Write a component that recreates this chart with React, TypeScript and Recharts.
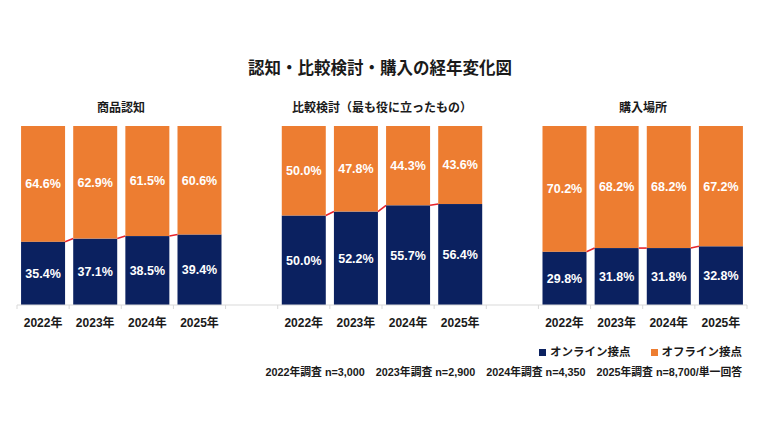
import React from 'react';
import { BarChart, Bar, XAxis, YAxis, LabelList } from 'recharts';

const years = ['2022年', '2023年', '2024年', '2025年'];
const groupTitles = ['商品認知', '比較検討（最も役に立ったもの）', '購入場所'];
const onlineAwareness = [35.4, 37.1, 38.5, 39.4];
const offlineAwareness = [64.6, 62.9, 61.5, 60.6];
const onlineComparison = [50.0, 52.2, 55.7, 56.4];
const offlineComparison = [50.0, 47.8, 44.3, 43.6];
const onlinePurchase = [29.8, 31.8, 31.8, 32.8];
const offlinePurchase = [70.2, 68.2, 68.2, 67.2];
const surveyNotes = ['2022年調査 n=3,000', '2023年調査 n=2,900', '2024年調査 n=4,350', '2025年調査 n=8,700/単一回答'];

const NAVY = '#0b2160';
const ORANGE = '#ED7D31';
const RED = '#e8232a';
const FONT = "'Liberation Sans', 'Noto Sans CJK JP', sans-serif";
const GAP = 0.078;

const onlineSets = [onlineAwareness, onlineComparison, onlinePurchase];
const offlineSets = [offlineAwareness, offlineComparison, offlinePurchase];

type Row = { key: string; label: string; online: number | null; offline: number | null };
const rows: Row[] = [];
groupTitles.forEach((g, gi) => {
  if (gi > 0) rows.push({ key: `gap-${gi}`, label: '', online: null, offline: null });
  years.forEach((yr, i) => {
    rows.push({ key: `${gi}-${yr}`, label: yr, online: onlineSets[gi][i], offline: offlineSets[gi][i] });
  });
});

const OnlineShape = (props: any) => {
  const { x, y, width, height, payload } = props;
  if (!width || !height || height <= 0) return null;
  const idx = rows.findIndex((r) => r.key === payload?.key);
  const row = rows[idx];
  const next = rows[idx + 1];
  let line = null;
  if (row && next && next.online != null && row.online) {
    const unit = height / row.online;
    const bottom = y + height;
    const band = width / (1 - 2 * GAP);
    line = (
      <line x1={x + width} y1={y} x2={x + band} y2={bottom - next.online * unit} stroke={RED} strokeWidth={1.6} />
    );
  }
  return (
    <g>
      <rect x={x} y={y} width={width} height={height} fill={NAVY} />
      {line}
    </g>
  );
};

const Tick = (props: any) => {
  const { x, y, payload, index } = props;
  const row = rows.find((r) => r.key === payload.value);
  const off = payload.offset || 26;
  const isLast = index === rows.length - 1;
  return (
    <g>
      <line x1={x - off} y1={y - 8} x2={x - off} y2={y - 4} stroke="#d9d9d9" strokeWidth={1} />
      {isLast && <line x1={x + off} y1={y - 8} x2={x + off} y2={y - 4} stroke="#d9d9d9" strokeWidth={1} />}
      <text x={x} y={y + 14} textAnchor="middle" fill="#1a1a1a" fontSize={12} fontWeight="bold" fontFamily={FONT}>
        {row ? row.label : ''}
      </text>
    </g>
  );
};

const fmt = (v: any) => (v == null || isNaN(Number(v)) ? '' : `${Number(v).toFixed(1)}%`);

const subCenters = [121, 382, 643];

export default function App() {
  return (
    <div style={{ position: 'absolute', left: 0, top: 0, width: 770, height: 433, background: '#fff', fontFamily: FONT }}>
      <BarChart
        width={770}
        height={433}
        data={rows}
        margin={{ top: 126, right: 23, bottom: 98, left: 17 }}
        barCategoryGap={`${GAP * 100}%`}
      >
        <XAxis dataKey="key" height={30} tickLine={false} axisLine={{ stroke: '#d9d9d9' }} tick={<Tick />} interval={0} />
        <YAxis hide domain={[0, 100]} />
        <Bar dataKey="online" stackId="a" fill={NAVY} isAnimationActive={false} shape={<OnlineShape />}>
          <LabelList dataKey="online" position="center" formatter={fmt} fill="#fff" fontSize={12.5} fontWeight="bold" fontFamily={FONT} />
        </Bar>
        <Bar dataKey="offline" stackId="a" fill={ORANGE} isAnimationActive={false}>
          <LabelList dataKey="offline" position="center" formatter={fmt} fill="#fff" fontSize={12.5} fontWeight="bold" fontFamily={FONT} />
        </Bar>
      </BarChart>
      <div style={{ position: 'absolute', left: 0, width: 760, top: 57, textAlign: 'center', fontSize: 16.5, fontWeight: 'bold', color: '#1a1a1a', lineHeight: '22px' }}>
        認知・比較検討・購入の経年変化図
      </div>
      {groupTitles.map((t, i) => (
        <div key={t} style={{ position: 'absolute', left: subCenters[i] - 150, width: 300, top: 100, textAlign: 'center', fontSize: 12, fontWeight: 'bold', color: '#1a1a1a', lineHeight: '16px' }}>
          {t}
        </div>
      ))}
      <div style={{ position: 'absolute', right: 28, top: 344, display: 'flex', alignItems: 'center', fontSize: 11.5, fontWeight: 'bold', color: '#1a1a1a', lineHeight: '16px' }}>
        <span style={{ display: 'inline-block', width: 7, height: 7, background: NAVY, marginRight: 4 }} />
        <span>オンライン接点</span>
        <span style={{ display: 'inline-block', width: 7, height: 7, background: ORANGE, marginLeft: 20, marginRight: 4 }} />
        <span>オフライン接点</span>
      </div>
      <div style={{ position: 'absolute', right: 28, top: 365, display: 'flex', fontSize: 10.8, fontWeight: 'bold', color: '#1a1a1a', lineHeight: '14px', whiteSpace: 'nowrap' }}>
        {surveyNotes.map((n, i) => (
          <span key={n} style={{ marginLeft: i === 0 ? 0 : 11 }}>{n}</span>
        ))}
      </div>
    </div>
  );
}
